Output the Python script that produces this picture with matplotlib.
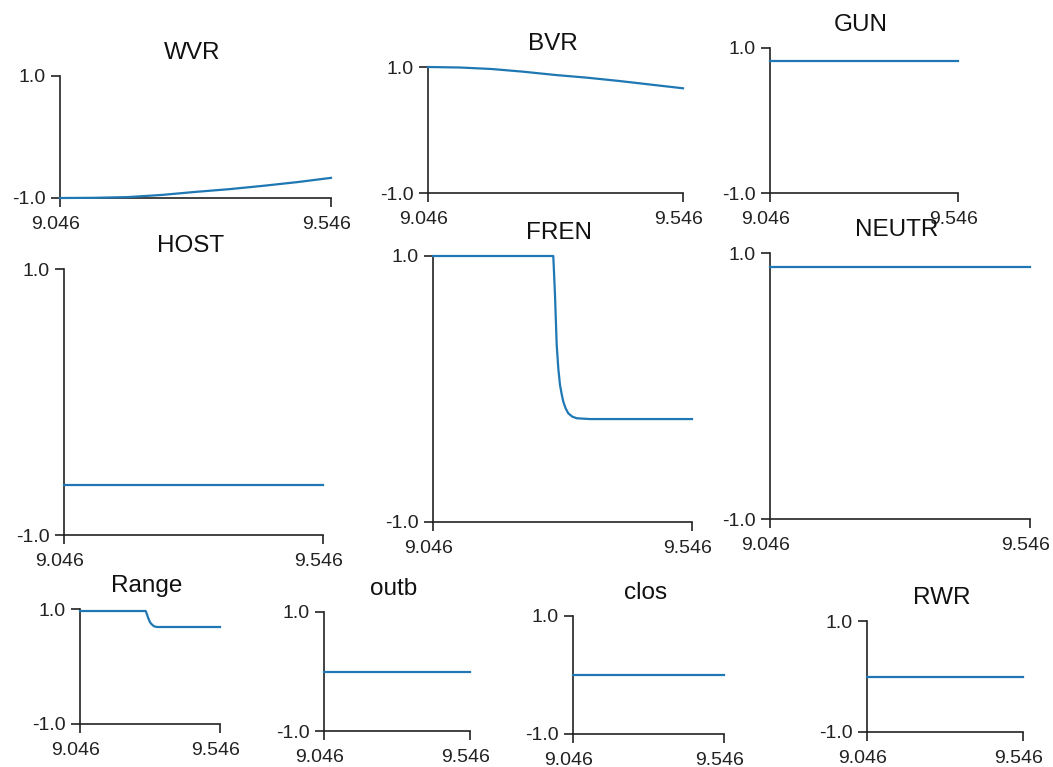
import matplotlib
matplotlib.use("Agg")
import matplotlib.pyplot as plt
import matplotlib.transforms as mtransforms

plt.rcParams['font.family'] = ['Liberation Sans', 'DejaVu Sans']

W, H = 1053, 767
T0, T1 = 9.046, 9.546

t_wvr = [9.046, 9.1085, 9.171, 9.2335, 9.296, 9.3585, 9.421, 9.4835, 9.546]
wvr = [-1.0, -0.997, -0.985, -0.95, -0.90, -0.855, -0.80, -0.74, -0.67]

t_bvr = [9.046, 9.1085, 9.171, 9.2335, 9.296, 9.3585, 9.421, 9.4835, 9.546]
bvr = [1.0, 0.992, 0.968, 0.925, 0.873, 0.83, 0.778, 0.72, 0.662]

t_gun = [9.046, 9.546]
gun = [0.82, 0.82]

t_host = [9.046, 9.546]
host = [-0.624, -0.624]

t_fren = [9.046, 9.2782, 9.2798, 9.2815, 9.2848, 9.2880, 9.2912, 9.2945,
          9.2976, 9.3020, 9.3072, 9.3150, 9.3234, 9.3491, 9.546]
fren = [1.0, 1.0, 0.86, 0.707, 0.331, 0.150, 0.030, -0.040,
        -0.096, -0.145, -0.183, -0.208, -0.220, -0.226, -0.226]

t_neutr = [9.046, 9.546]
neutr = [0.895, 0.895]

t_range = [9.046, 9.2806, 9.285, 9.290, 9.296, 9.302, 9.310, 9.320, 9.546]
rng = [0.965, 0.965, 0.91, 0.838, 0.77, 0.734, 0.70, 0.687, 0.687]

t_outb = [9.046, 9.546]
outb = [0.0, 0.0]

t_clos = [9.046, 9.546]
clos = [0.0, 0.0]

t_rwr = [9.046, 9.546]
rwr = [0.0, 0.0]

panels = [
    ("WVR", t_wvr, wvr, (60, 76, 331, 198)),
    ("BVR", t_bvr, bvr, (428, 67, 683, 193)),
    ("GUN", t_gun, gun, (770, 48, 958, 193)),
    ("HOST", t_host, host, (64, 269, 323, 535)),
    ("FREN", t_fren, fren, (433, 256, 692, 522)),
    ("NEUTR", t_neutr, neutr, (770, 253, 1030, 519)),
    ("Range", t_range, rng, (80, 609, 220, 724)),
    ("outb", t_outb, outb, (324, 612, 470, 731)),
    ("clos", t_clos, clos, (573, 616, 724, 734)),
    ("RWR", t_rwr, rwr, (867, 621, 1023, 732)),
]

fig = plt.figure(figsize=(W / 100, H / 100), dpi=100)
fig.patch.set_facecolor('white')

# x tick labels sit a little left of their ticks in the original
shift = mtransforms.ScaledTranslation(-4.5 / 100, 0, fig.dpi_scale_trans)

for name, t, v, (l, tp, r, b) in panels:
    ax = fig.add_axes([l / W, 1 - b / H, (r - l) / W, (b - tp) / H])
    ax.plot(t, v, color='#1f77b4', lw=1.6, clip_on=False, zorder=3)
    ax.set_xlim(T0, T1)
    ax.set_ylim(-1, 1)
    ax.set_xticks([T0, T1])
    ax.set_xticklabels(["%.3f" % T0, "%.3f" % T1])
    ax.set_yticks([-1, 1])
    ax.set_yticklabels(["-1.0", "1.0"])
    for s in ('top', 'right'):
        ax.spines[s].set_visible(False)
    for s in ('left', 'bottom'):
        ax.spines[s].set_color('#222222')
        ax.spines[s].set_linewidth(1.2)
    ax.tick_params(length=6.5, width=1.2, color='#222222', labelsize=14,
                   labelcolor='#222222')
    ax.tick_params(axis='x', pad=6.5)
    ax.tick_params(axis='y', pad=3.5)
    for lab in ax.get_xticklabels():
        lab.set_transform(lab.get_transform() + shift)
    ax.patch.set_alpha(0)
    # title above the panel
    fig.text((l + r) / 2 / W - 3 / W, 1 - (tp - 17) / H, name,
             ha='center', va='baseline', fontsize=17.5, color='#111111')

fig.savefig("out.png", dpi=100)
